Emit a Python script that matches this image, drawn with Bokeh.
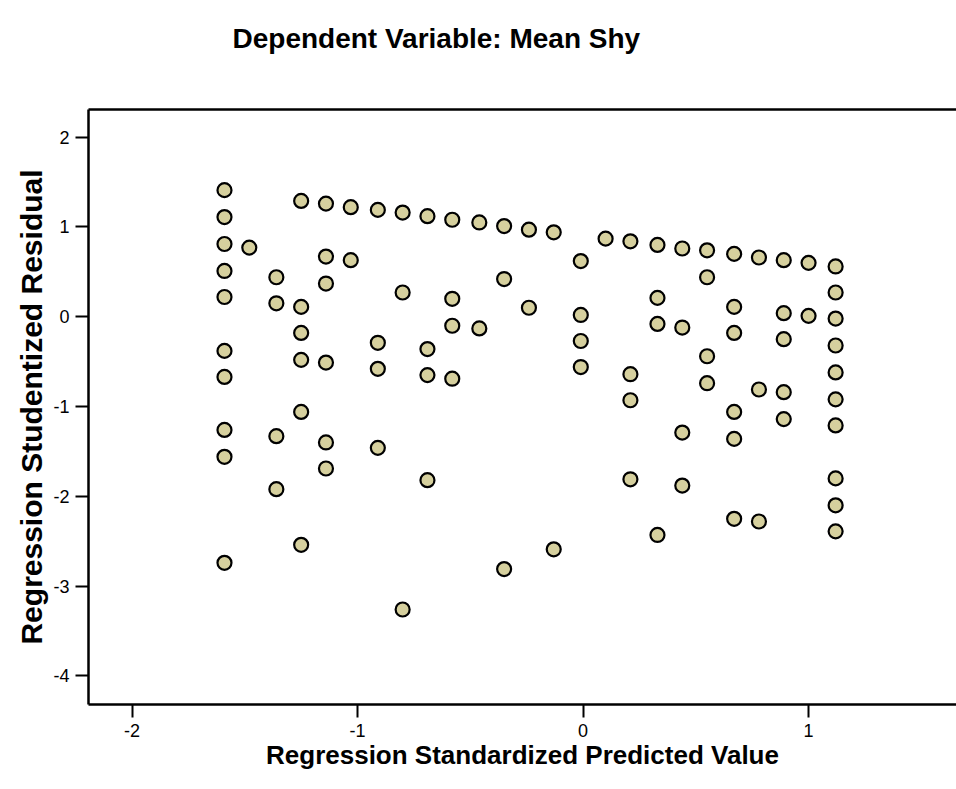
from bokeh.plotting import figure
from bokeh.models import Range1d, FixedTicker, LinearAxis, ColumnDataSource, Title
from bokeh.embed import file_html
from bokeh.resources import INLINE

title_text = "Dependent Variable: Mean Shy"
x_label = "Regression Standardized Predicted Value"
y_label = "Regression Studentized Residual"
x_ticks = [-2, -1, 0, 1]
y_ticks = [-4, -3, -2, -1, 0, 1, 2]

x_pred = (
    [-1.59] * 10 + [-1.48] + [-1.36] * 4 + [-1.25] * 6 + [-1.14] * 6 + [-1.03] * 2
    + [-0.91] * 4 + [-0.80] * 3 + [-0.69] * 4 + [-0.58] * 4 + [-0.46] * 2
    + [-0.35] * 3 + [-0.24] * 2 + [-0.13] * 2 + [-0.01] * 4 + [0.10]
    + [0.21] * 4 + [0.33] * 4 + [0.44] * 4 + [0.55] * 4 + [0.67] * 6
    + [0.78] * 3 + [0.89] * 5 + [1.00] * 2 + [1.12] * 10
)
y_resid = [
    1.41, 1.11, 0.81, 0.51, 0.22, -0.38, -0.67, -1.26, -1.56, -2.74,
    0.77,
    0.44, 0.15, -1.33, -1.92,
    1.29, 0.11, -0.18, -0.48, -1.06, -2.54,
    1.26, 0.67, 0.37, -0.51, -1.40, -1.69,
    1.22, 0.63,
    1.19, -0.29, -0.58, -1.46,
    1.16, 0.27, -3.26,
    1.12, -0.36, -0.65, -1.82,
    1.08, 0.20, -0.10, -0.69,
    1.05, -0.13,
    1.01, 0.42, -2.81,
    0.97, 0.10,
    0.94, -2.59,
    0.62, 0.02, -0.27, -0.56,
    0.87,
    0.84, -0.64, -0.93, -1.81,
    0.80, 0.21, -0.08, -2.43,
    0.76, -0.12, -1.29, -1.88,
    0.74, 0.44, -0.44, -0.74,
    0.70, 0.11, -0.18, -1.06, -1.36, -2.25,
    0.66, -0.81, -2.28,
    0.63, 0.04, -0.25, -0.84, -1.14,
    0.60, 0.01,
    0.56, 0.27, -0.02, -0.32, -0.62, -0.92, -1.21, -1.80, -2.10, -2.39,
]

FONT = "Liberation Sans"

p = figure(
    frame_width=868, frame_height=595,
    min_border_left=88, min_border_right=0, min_border_top=0, min_border_bottom=80,
    x_range=Range1d(-2.193, 1.656), y_range=Range1d(-4.318, 2.308),
    output_backend="svg", toolbar_location=None,
    title=title_text,
)
p.title.text_font = FONT
p.title.text_font_size = "28px"
p.title.text_font_style = "bold"
p.title.text_color = "black"
p.title.align = "left"
p.title.offset = 144
p.title.vertical_align = "top"
p.title.standoff = 44

p.outline_line_color = None
p.xgrid.visible = False
p.ygrid.visible = False
p.background_fill_color = "white"
p.border_fill_color = "white"

for ax in (p.xaxis[0], p.yaxis[0]):
    ax.axis_line_width = 2.5
    ax.axis_line_color = "black"
    ax.major_tick_line_width = 2
    ax.major_tick_line_color = "black"
    ax.major_tick_out = 13
    ax.major_tick_in = 0
    ax.minor_tick_line_color = None
    ax.major_label_text_font = FONT
    ax.major_label_text_font_size = "18px"
    ax.major_label_text_color = "black"
    ax.axis_label_text_font = FONT
    ax.axis_label_text_font_style = "bold"
    ax.axis_label_text_color = "black"

p.xaxis[0].ticker = FixedTicker(ticks=x_ticks)
p.yaxis[0].ticker = FixedTicker(ticks=y_ticks)
p.xaxis[0].major_label_overrides = {t: str(t) for t in x_ticks}
p.yaxis[0].major_label_overrides = {t: str(t) for t in y_ticks}
p.xaxis[0].axis_label = x_label
p.yaxis[0].axis_label = y_label
p.xaxis[0].axis_label_text_font_size = "26px"
p.yaxis[0].axis_label_text_font_size = "30px"
p.xaxis[0].major_label_standoff = 6
p.yaxis[0].major_label_standoff = 6
p.xaxis[0].axis_label_standoff = 0
p.yaxis[0].axis_label_standoff = 2

# top border line
top_axis = LinearAxis(
    ticker=FixedTicker(ticks=[]), axis_line_width=2.5, axis_line_color="black",
    major_tick_line_color=None, minor_tick_line_color=None, major_label_text_color=None,
    major_tick_out=0, major_tick_in=0,
)
p.add_layout(top_axis, "above")

# white (invisible) spacer between the title and the plot box
spacer = Title(text=".", text_font_size="10px", text_color="white", standoff=22)
p.add_layout(spacer, "above")

src = ColumnDataSource(dict(x=x_pred, y=y_resid))
p.scatter("x", "y", source=src, size=14, fill_color="#D6D09E",
          line_color="black", line_width=2.2)

open("out.html", "w").write(file_html(p, INLINE))
